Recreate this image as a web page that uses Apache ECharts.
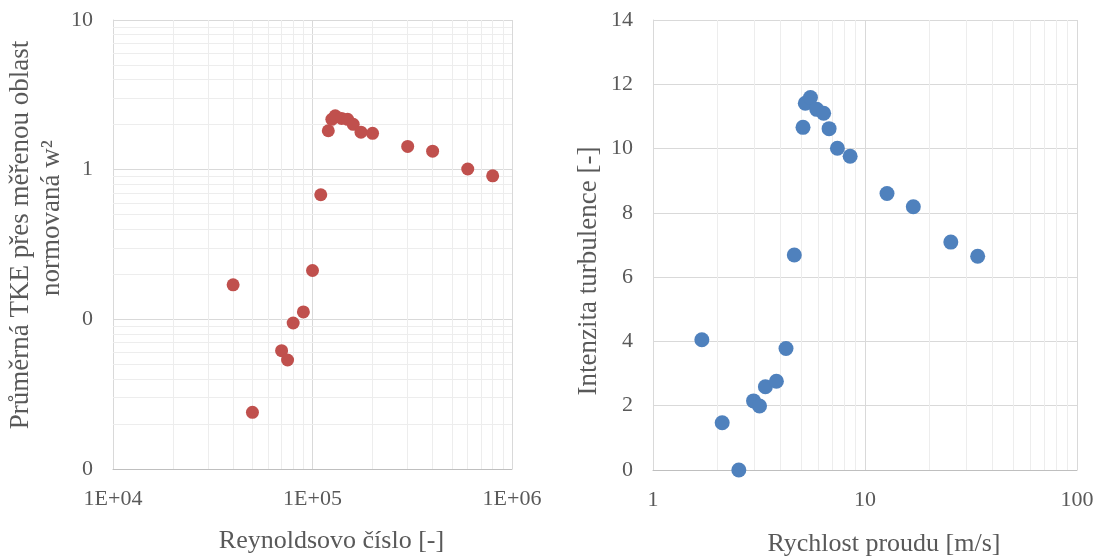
<!DOCTYPE html>
<html>
<head>
<meta charset="utf-8">
<script src="https://cdn.jsdelivr.net/npm/echarts@6/dist/echarts.min.js"></script>
<style>
html,body{margin:0;padding:0;background:#fff;}
#c{width:1107px;height:558px;}
</style>
</head>
<body>
<div id="c"></div>
<script>
// Left chart: Reynolds number vs normalized mean TKE
const reynolds = [40000, 50000, 70000, 75000, 80000, 90000, 100000, 110000, 120000, 125000, 130000, 140000, 150000, 160000, 175000, 200000, 300000, 400000, 600000, 800000];
const tkeNorm = [0.170, 0.0239, 0.0617, 0.0535, 0.0945, 0.112, 0.212, 0.68, 1.82, 2.17, 2.29, 2.20, 2.17, 2.01, 1.78, 1.75, 1.43, 1.33, 1.01, 0.91];

// Right chart: flow velocity vs turbulence intensity
const velocity = [1.70, 2.12, 2.54, 2.98, 3.18, 3.39, 3.82, 4.24, 4.64, 5.10, 5.23, 5.53, 5.92, 6.38, 6.77, 7.41, 8.51, 12.7, 16.9, 25.4, 34.0];
const intensity = [4.05, 1.47, 0, 2.15, 1.99, 2.59, 2.76, 3.78, 6.69, 10.66, 11.41, 11.59, 11.22, 11.10, 10.62, 10.01, 9.76, 8.60, 8.19, 7.09, 6.65];

// Axis ranges
const leftXRange = [1e4, 1e6];
const leftYRange = [0.01, 10];
const rightXRange = [1, 100];
const rightYRange = [0, 14];
const rightYStep = 2;

// Axis titles
const leftYLine1 = 'Průměrná TKE přes měřenou oblast';
const leftYLine2 = 'normovaná w²';
const leftXName = 'Reynoldsovo číslo [-]';
const rightYName = 'Intenzita turbulence [-]';
const rightXName = 'Rychlost proudu [m/s]';

function minorValues(lo, hi) {
  const out = [];
  for (let d = lo; d < hi; d *= 10) {
    for (let k = 2; k <= 9; k++) out.push(d * k);
  }
  return out;
}

const FONT = 'Liberation Serif';
const TXT = '#595959';
const MAJOR = '#d9d9d9';
const MINOR = '#ededed';

function sciLabel(v) {
  const e = Math.round(Math.log10(v));
  return '1E+' + (e < 10 ? '0' + e : e);
}

const chart = echarts.init(document.getElementById('c'), null, {renderer: 'canvas'});

function minorLineSeries(xi, axisKey, vals) {
  return {
    type: 'scatter', xAxisIndex: xi, yAxisIndex: xi, data: [], z: 1, silent: true,
    markLine: {
      silent: true, symbol: ['none', 'none'], animation: false,
      label: {show: false},
      lineStyle: {color: MINOR, type: 'solid', width: 1},
      emphasis: {disabled: true},
      data: vals.map(v => ({[axisKey]: v}))
    }
  };
}

const axisLabelBase = {color: TXT, fontFamily: FONT, fontSize: 22};
const xNameBase = {color: TXT, fontFamily: FONT, fontSize: 26};
const yNameBase = {color: TXT, fontFamily: FONT, fontSize: 27};
const NB = '\u00a0';

chart.setOption({
  animation: false,
  backgroundColor: '#fff',
  grid: [
    {left: 113, top: 20, width: 399, height: 449, containLabel: false, outerBoundsMode: 'none'},
    {left: 653, top: 20, width: 424, height: 450, containLabel: false, outerBoundsMode: 'none'}
  ],
  xAxis: [
    {
      gridIndex: 0, type: 'log', logBase: 10, min: leftXRange[0], max: leftXRange[1],
      name: leftXName, nameLocation: 'middle', nameGap: 59,
      nameTextStyle: Object.assign({padding: [0, 0, 0, 38]}, xNameBase),
      axisLine: {show: true, lineStyle: {color: '#bfbfbf', width: 1}},
      axisTick: {show: false},
      axisLabel: Object.assign({margin: 19, formatter: sciLabel}, axisLabelBase),
      splitLine: {show: true, lineStyle: {color: MAJOR, width: 1}}
    },
    {
      gridIndex: 1, type: 'log', logBase: 10, min: rightXRange[0], max: rightXRange[1],
      name: rightXName, nameLocation: 'middle', nameGap: 61,
      nameTextStyle: Object.assign({padding: [0, 0, 0, 38]}, xNameBase),
      axisLine: {show: true, lineStyle: {color: '#bfbfbf', width: 1}},
      axisTick: {show: false},
      axisLabel: Object.assign({margin: 19, formatter: v => String(Math.round(v))}, axisLabelBase),
      splitLine: {show: true, lineStyle: {color: MAJOR, width: 1}}
    }
  ],
  yAxis: [
    {
      gridIndex: 0, type: 'log', logBase: 10, min: leftYRange[0], max: leftYRange[1],
      name: leftYLine1 + '\n' + NB.repeat(5) + leftYLine2,
      nameLocation: 'middle', nameRotate: 90, nameGap: 38,
      nameTextStyle: Object.assign({lineHeight: 31, align: 'center', padding: [0, 0, 0, 19]}, yNameBase),
      axisLine: {show: true, lineStyle: {color: MAJOR, width: 1}},
      axisTick: {show: false},
      axisLabel: Object.assign({margin: 20, formatter: v => String(Math.round(v))}, axisLabelBase),
      splitLine: {show: true, lineStyle: {color: MAJOR, width: 1}}
    },
    {
      gridIndex: 1, type: 'value', min: rightYRange[0], max: rightYRange[1], interval: rightYStep,
      name: rightYName, nameLocation: 'middle', nameRotate: 90, nameGap: 51,
      nameTextStyle: Object.assign({padding: [0, 52, 0, 0]}, yNameBase),
      axisLine: {show: true, lineStyle: {color: MAJOR, width: 1}},
      axisTick: {show: false},
      axisLabel: Object.assign({margin: 20}, axisLabelBase),
      splitLine: {show: true, lineStyle: {color: MAJOR, width: 1}}
    }
  ],
  series: [
    minorLineSeries(0, 'xAxis', minorValues(leftXRange[0], leftXRange[1])),
    minorLineSeries(0, 'yAxis', minorValues(leftYRange[0], leftYRange[1])),
    minorLineSeries(1, 'xAxis', minorValues(rightXRange[0], rightXRange[1])),
    {
      type: 'scatter', xAxisIndex: 0, yAxisIndex: 0, z: 5,
      symbol: 'circle', symbolSize: 13,
      itemStyle: {color: '#c0504d', opacity: 1},
      data: reynolds.map((r, i) => [r, tkeNorm[i]])
    },
    {
      type: 'scatter', xAxisIndex: 1, yAxisIndex: 1, z: 5,
      symbol: 'circle', symbolSize: 15,
      itemStyle: {color: '#4f81bd', opacity: 1},
      data: velocity.map((v, i) => [v, intensity[i]])
    }
  ]
});
</script>
</body>
</html>
